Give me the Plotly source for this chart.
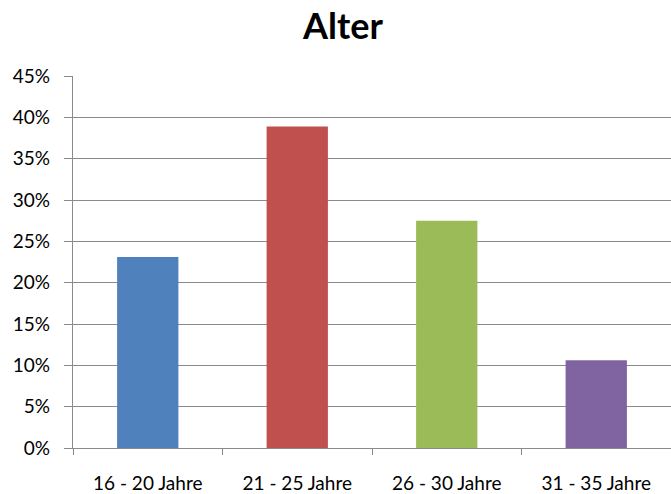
import plotly.graph_objects as go

categories = ["16 - 20 Jahre", "21 - 25 Jahre", "26 - 30 Jahre", "31 - 35 Jahre"]
values = [0.231, 0.389, 0.275, 0.106]
colors = ["#4F81BD", "#C0504D", "#9BBB59", "#8064A2"]
y_ticks = [0, 0.05, 0.10, 0.15, 0.20, 0.25, 0.30, 0.35, 0.40, 0.45]

fig = go.Figure(go.Bar(x=categories, y=values, marker=dict(color=colors, line=dict(width=0))))

W, H = 671, 494
fig.update_layout(
    width=W, height=H,
    margin=dict(l=73, r=0, t=76, b=46),
    paper_bgcolor="white", plot_bgcolor="white",
    bargap=0.59,
    showlegend=False,
    font=dict(family="Lato, Carlito, sans-serif", color="black", size=19),
    title=dict(text="<b>Alter</b>", x=343 / W, xanchor="center", y=1 - 26 / H, yanchor="middle",
               font=dict(size=36, family="Lato, sans-serif", color="black")),
)
fig.update_yaxes(
    range=[0, 0.45], tickvals=y_ticks, tickformat=".0%",
    showgrid=True, gridcolor="#8a8a8a", gridwidth=1.3,
    showline=True, linecolor="#8a8a8a", linewidth=1.3,
    ticks="outside", ticklen=8, tickcolor="#8a8a8a", tickwidth=1.3,
    ticklabelstandoff=10, zeroline=False,
    tickfont=dict(size=19),
)
fig.update_xaxes(
    showline=True, linecolor="#8a8a8a", linewidth=1.3,
    ticks="outside", ticklen=6, tickcolor="#8a8a8a", tickwidth=1.3, tickson="boundaries",
    ticklabelstandoff=18,
    tickfont=dict(size=19),
)
fig.write_html("out.html")
